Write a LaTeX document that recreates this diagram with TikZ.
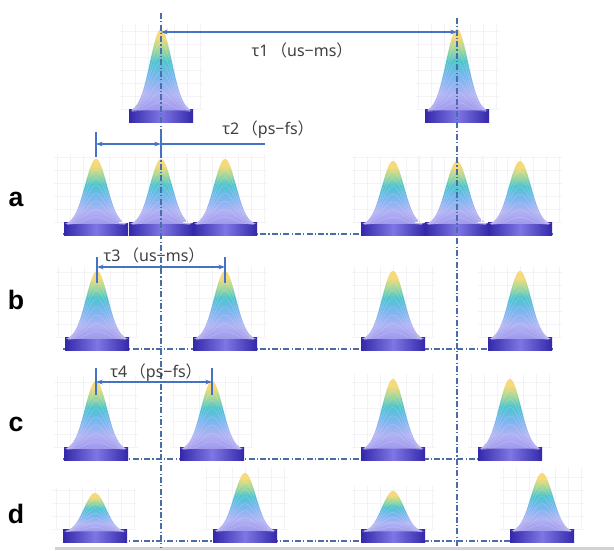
\documentclass[tikz,border=0pt]{standalone}
\usepackage{fontspec}
\setmainfont{Noto Sans}
\newfontfamily\cjk{Noto Sans CJK SC}
\newfontfamily\labfont{Liberation Sans}
\usetikzlibrary{arrows.meta}
\definecolor{dd}{HTML}{4A6FA8}
\definecolor{ar}{HTML}{4472C4}
\definecolor{bdark}{HTML}{3428AA}
\definecolor{bmid}{HTML}{7E76E4}
\definecolor{gridc}{HTML}{F2F2F7}
\definecolor{txt}{HTML}{404040}
\definecolor{cz}{HTML}{A098EC}
\definecolor{ca}{HTML}{B0B2F4}
\definecolor{cb}{HTML}{78B6EE}
\definecolor{cc}{HTML}{4EC4D0}
\definecolor{cd}{HTML}{A6D898}
\definecolor{ce}{HTML}{F6DA7A}
\pgfdeclareverticalshading{peakshade}{100bp}{color(0bp)=(cz); color(25bp)=(cz); color(35bp)=(ca); color(46bp)=(cb); color(55bp)=(cc); color(63bp)=(cd); color(70bp)=(ce); color(100bp)=(ce)}
\newcommand\peak[4]{%
  \pgfmathsetmacro\hh{#3-11-#2}%
  \begin{scope}
    \clip (#1-42,#2-4) rectangle (#1+42,#3-12);
    \foreach \i in {-39,-26,...,39} \draw[gridc,line width=.3pt] (#1+\i,#2-4) -- (#1+\i,#3-12);
    \foreach \j in {0,13,...,130} \draw[gridc,line width=.3pt] (#1-42,#3-13-\j) -- (#1+42,#3-13-\j);
  \end{scope}
  \shade[left color=bdark,right color=bdark,middle color=bmid] (#1-32,#3-13) rectangle (#1+32,#3);
  \shade[shading=peakshade] plot[domain=-31:31,samples=63,smooth] ({#1+\x},{#3-10-\hh*exp(-((\x)*(\x))/240)}) -- cycle;
  \foreach \k in {0.12,0.24,...,0.9}
    \draw[white,opacity=.25,line width=.3pt] plot[domain=-29:29,samples=41,smooth] ({#1+\x},{#3-10-\k*\hh*exp(-((\x)*(\x))/240)});
  \coordinate (#4) at (#1,#2);
}
\tikzset{
  ddline/.style={dd,line width=0.8pt,dash pattern=on 4.5pt off 1.6pt on 1pt off 1.6pt},
  bar/.style={ar,line width=2.2pt},
  dim/.style={ar,line width=0.8pt,{Stealth[length=5pt,width=3.5pt]}-{Stealth[length=5pt,width=3.5pt]}},
  lbl/.style={text=txt,font=\fontsize{12}{14}\selectfont,inner sep=0pt},
  rowlbl/.style={text=black,font=\labfont\bfseries\fontsize{20}{24}\selectfont,inner sep=0pt}
}
\begin{document}
\begin{tikzpicture}[x=0.75pt,y=-0.75pt]
\useasboundingbox (0,0) rectangle (614,550);
\fill[white] (0,0) rectangle (614,550);
% horizontal baselines
\coordinate (ha1) at (63,234); \coordinate (ha2) at (553,234);
\coordinate (hb1) at (63,349); \coordinate (hb2) at (553,349);
\coordinate (hc1) at (63,459); \coordinate (hc2) at (542,459);
\coordinate (hd1) at (63,541); \coordinate (hd2) at (573,541);
\draw[ddline] (ha1) -- (ha2);
\draw[ddline] (hb1) -- (hb2);
\draw[ddline] (hc1) -- (hc2);
\draw[ddline] (hd1) -- (hd2);
% peaks
\peak{161}{28}{122}{p01}
\peak{457}{28}{122}{p02}
\peak{96}{158}{235}{pa1}
\peak{161}{158}{235}{pa2}
\peak{225}{158}{235}{pa3}
\peak{393}{160}{235}{pa4}
\peak{457}{160}{235}{pa5}
\peak{520}{160}{235}{pa6}
\peak{97}{270}{350}{pb1}
\peak{225}{270}{350}{pb2}
\peak{393}{270}{350}{pb3}
\peak{520}{270}{350}{pb4}
\peak{96}{380}{460}{pc1}
\peak{212}{380}{460}{pc2}
\peak{393}{378}{460}{pc3}
\peak{510}{378}{460}{pc4}
\peak{95}{492}{542}{pd1}
\peak{245}{472}{542}{pd2}
\peak{393}{490}{542}{pd3}
\peak{542}{472}{542}{pd4}
% bottom grey bar
\fill[gray!35] (55,547) rectangle (614,550);
% vertical dash-dot lines
\coordinate (v1t) at (161,13); \coordinate (v1b) at (161,548);
\coordinate (v2t) at (457,18); \coordinate (v2b) at (457,548);
\draw[ddline] (v1t) -- (v1b);
\draw[ddline] (v2t) -- (v2b);
% tau1
\coordinate (t1a) at (161,32); \coordinate (t1b) at (457,32);
\draw[dim] (t1a) -- (t1b);
\node[lbl] (l1) at (302,50) {τ1\,{\cjk （}us−ms{\cjk ）}};
% tau2
\coordinate (b2at) at (96,132); \coordinate (b2ab) at (96,157);
\coordinate (b2bt) at (161,132); \coordinate (b2bb) at (161,157);
\draw[bar] (b2at) -- (b2ab);
\draw[bar] (b2bt) -- (b2bb);
\coordinate (t2a) at (96,144); \coordinate (t2b) at (161,144); \coordinate (t2c) at (265,144);
\draw[dim] (t2a) -- (t2b);
\draw[ar,line width=0.8pt] (t2b) -- (t2c);
\node[lbl] (l2) at (268,130) {τ2\,{\cjk （}ps−fs{\cjk ）}};
% tau3
\coordinate (b3at) at (97,257); \coordinate (b3ab) at (97,283);
\coordinate (b3bt) at (225,257); \coordinate (b3bb) at (225,283);
\draw[bar] (b3at) -- (b3ab);
\draw[bar] (b3bt) -- (b3bb);
\coordinate (t3a) at (97,267); \coordinate (t3b) at (225,267);
\draw[dim] (t3a) -- (t3b);
\node[lbl] (l3) at (154,255) {τ3\,{\cjk （}us−ms{\cjk ）}};
% tau4
\coordinate (b4at) at (96,368); \coordinate (b4ab) at (96,395);
\coordinate (b4bt) at (212,368); \coordinate (b4bb) at (212,395);
\draw[bar] (b4at) -- (b4ab);
\draw[bar] (b4bt) -- (b4bb);
\coordinate (t4a) at (96,382); \coordinate (t4b) at (212,382);
\draw[dim] (t4a) -- (t4b);
\node[lbl] (l4) at (156,373) {τ4\,{\cjk （}ps−fs{\cjk ）}};
% row labels
\node[rowlbl] (ra) at (16,199) {a};
\node[rowlbl] (rb) at (16,300) {b};
\node[rowlbl] (rc) at (16,424) {c};
\node[rowlbl] (rd) at (16,514) {d};
\end{tikzpicture}
\end{document}
